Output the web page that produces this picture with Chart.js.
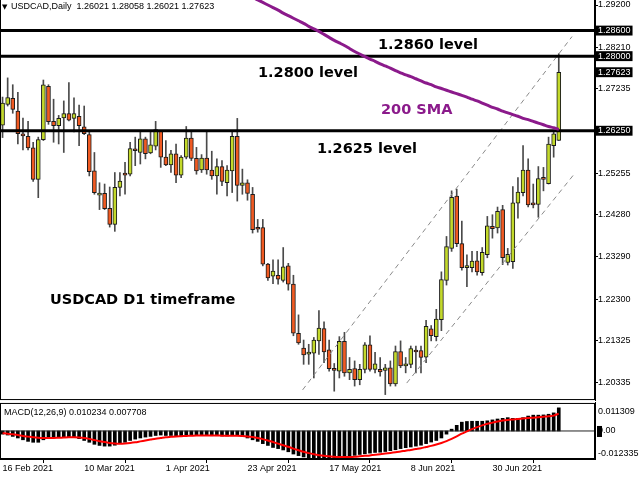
<!DOCTYPE html>
<html>
<head>
<meta charset="utf-8">
<script src="https://cdn.jsdelivr.net/npm/chart.js@4.4.0/dist/chart.umd.min.js"></script>
<style>
html, body { margin: 0; padding: 0; background: #fff; }
#wrap { position: relative; width: 640px; height: 480px; overflow: hidden; }
#priceChart { position: absolute; left: 0; top: -6px; }
#macdChart { position: absolute; left: 0; top: 395px; }
</style>
</head>
<body>
<div id="wrap">
  <canvas id="priceChart" width="640" height="411"></canvas>
  <canvas id="macdChart" width="640" height="85"></canvas>
</div>
<script>
// USDCAD daily, 16 Feb 2021 .. 19 Jul 2021
const opens = [
  1.2638,1.2687,1.2701,1.2671,1.2616,1.2612,1.2585,1.2511,1.2604,1.2729,
  1.2647,1.2637,1.2655,1.2665,1.2654,1.2659,1.2634,1.2616,1.2531,1.2474,
  1.2478,1.2443,1.2405,1.2492,1.2524,1.2523,1.2582,1.2574,1.2606,1.2573,
  1.2589,1.2624,1.2563,1.2545,1.2571,1.2521,1.2563,1.2608,1.2560,1.2533,
  1.2561,1.2533,1.2519,1.2541,1.2503,1.2531,1.2612,1.2497,1.2503,1.2476,
  1.2398,1.2398,1.2312,1.2284,1.2286,1.2274,1.2308,1.2265,1.2150,1.2115,
  1.2101,1.2103,1.2132,1.2161,1.2111,1.2067,1.2061,1.2131,1.2057,1.2067,
  1.2041,1.2065,1.2123,1.2065,1.2065,1.2063,1.2069,1.2031,1.2107,1.2073,
  1.2077,1.2109,1.2109,1.2094,1.2160,1.2142,1.2182,1.2274,1.2349,1.2472,
  1.2360,1.2304,1.2304,1.2320,1.2292,1.2334,1.2401,1.2397,1.2440,1.2316,
  1.2318,1.2455,1.2480,1.2533,1.2455,1.2452,1.2515,1.2501,1.2590,1.26021
];
const highs = [
  1.2704,1.2749,1.2733,1.2715,1.2655,1.2647,1.2598,1.2610,1.2744,1.2733,
  1.2699,1.2661,1.2695,1.2738,1.2702,1.2685,1.2683,1.2626,1.2574,1.2503,
  1.2500,1.2493,1.2527,1.2527,1.2551,1.2598,1.2610,1.2622,1.2610,1.2622,
  1.2647,1.2626,1.2602,1.2579,1.2594,1.2567,1.2635,1.2624,1.2586,1.2569,
  1.2624,1.2577,1.2559,1.2555,1.2543,1.2622,1.2654,1.2535,1.2510,1.2492,
  1.2417,1.2417,1.2314,1.2322,1.2322,1.2351,1.2314,1.2286,1.2193,1.2134,
  1.2124,1.2140,1.2203,1.2177,1.2134,1.2079,1.2142,1.2152,1.2093,1.2085,
  1.2077,1.2128,1.2144,1.2105,1.2093,1.2077,1.2085,1.2120,1.2132,1.2093,
  1.2120,1.2120,1.2120,1.2180,1.2168,1.2206,1.2294,1.2377,1.2484,1.2488,
  1.2413,1.2334,1.2342,1.2342,1.2351,1.2424,1.2428,1.2446,1.2450,1.2349,
  1.2494,1.2515,1.2590,1.2559,1.2500,1.2541,1.2539,1.2610,1.2626,1.28058
];
const lows = [
  1.2609,1.2683,1.2666,1.2594,1.2580,1.2580,1.2506,1.2468,1.2602,1.2640,
  1.2598,1.2594,1.2574,1.2648,1.2622,1.2590,1.2616,1.2519,1.2476,1.2440,
  1.2440,1.2399,1.2389,1.2472,1.2476,1.2519,1.2543,1.2547,1.2559,1.2571,
  1.2580,1.2539,1.2543,1.2527,1.2503,1.2515,1.2559,1.2555,1.2523,1.2527,
  1.2523,1.2511,1.2476,1.2496,1.2472,1.2480,1.2460,1.2476,1.2462,1.2385,
  1.2387,1.2308,1.2274,1.2266,1.2265,1.2270,1.2251,1.2144,1.2124,1.2077,
  1.2077,1.2045,1.2100,1.2081,1.2061,1.2014,1.2045,1.2049,1.2041,1.2026,
  1.2029,1.2057,1.2061,1.2057,1.2049,1.2006,1.2026,1.2026,1.2069,1.2057,
  1.2069,1.2057,1.2057,1.2081,1.2132,1.2132,1.2156,1.2263,1.2342,1.2353,
  1.2298,1.2259,1.2294,1.2286,1.2286,1.2327,1.2373,1.2385,1.2311,1.2310,
  1.2302,1.2420,1.2472,1.2446,1.2444,1.2422,1.2484,1.2500,1.2563,1.26021
];
const closes = [
  1.2690,1.2703,1.2675,1.2618,1.2613,1.2585,1.2511,1.2604,1.2733,1.2646,
  1.2637,1.2654,1.2665,1.2650,1.2665,1.2637,1.2618,1.2529,1.2480,1.2478,
  1.2442,1.2405,1.2492,1.2507,1.2521,1.2583,1.2578,1.2606,1.2571,1.2592,
  1.2628,1.2563,1.2545,1.2571,1.2521,1.2563,1.2608,1.2560,1.2531,1.2561,
  1.2533,1.2519,1.2541,1.2506,1.2533,1.2612,1.2497,1.2503,1.2478,1.2393,
  1.2394,1.2312,1.2280,1.2296,1.2277,1.2306,1.2265,1.2150,1.2127,1.2099,
  1.2105,1.2134,1.2162,1.2106,1.2067,1.2063,1.2131,1.2057,1.2065,1.2041,
  1.2065,1.2123,1.2065,1.2078,1.2059,1.2069,1.2031,1.2107,1.2073,1.2078,
  1.2114,1.2106,1.2093,1.2166,1.2144,1.2183,1.2276,1.2353,1.2469,1.2360,
  1.2304,1.2308,1.2319,1.2294,1.2340,1.2402,1.2395,1.2436,1.2327,1.2335,
  1.2456,1.2481,1.2533,1.2451,1.2451,1.2513,1.2511,1.2594,1.2618,1.27623
];

// 200 SMA, only the part that shows (starts at bar 48)
const smaStart = 48;
const sma200 = [
  1.2943,1.2938,1.2932,1.2926,1.2920,1.2914,1.2908,1.2901,1.2895,1.2889,
  1.2883,1.2877,1.2870,1.2864,1.2858,1.2851,1.2844,1.2837,1.2831,1.2825,
  1.2818,1.2811,1.2805,1.2799,1.2793,1.2788,1.2782,1.2777,1.2772,1.2766,
  1.2761,1.2756,1.2752,1.2747,1.2742,1.2737,1.2733,1.2728,1.2724,1.2720,
  1.2716,1.2712,1.2708,1.2704,1.2699,1.2695,1.2690,1.2685,1.2680,1.2676,
  1.2671,1.2667,1.2663,1.2659,1.2654,1.2651,1.2647,1.2643,1.2639,1.2635,
  1.2632,1.2628
];

// MACD(12,26,9): main (histogram) and signal
const macdMain = [
  -0.0014,-0.0018,-0.0024,-0.0031,-0.0039,-0.0046,-0.0050,-0.0050,-0.0039,-0.0034,
  -0.0031,-0.0029,-0.0028,-0.0027,-0.0029,-0.0034,-0.0042,-0.0050,-0.0059,-0.0064,
  -0.0067,-0.0067,-0.0063,-0.0056,-0.0050,-0.0042,-0.0036,-0.0031,-0.0027,-0.0024,
  -0.0020,-0.0018,-0.0020,-0.0020,-0.0021,-0.0021,-0.0018,-0.0017,-0.0018,-0.0020,
  -0.0020,-0.0021,-0.0021,-0.0022,-0.0022,-0.0020,-0.0021,-0.0024,-0.0031,-0.0039,
  -0.0046,-0.0056,-0.0064,-0.0073,-0.0078,-0.0084,-0.0092,-0.0102,-0.0109,-0.0115,
  -0.0118,-0.0119,-0.0119,-0.0119,-0.0120,-0.0120,-0.0118,-0.0115,-0.0112,-0.0108,
  -0.0104,-0.0101,-0.0098,-0.0095,-0.0094,-0.0091,-0.0087,-0.0083,-0.0078,-0.0074,
  -0.0071,-0.0067,-0.0063,-0.0056,-0.0049,-0.0042,-0.0031,-0.0014,0.0008,0.0025,
  0.0039,0.0042,0.0043,0.0043,0.0043,0.0045,0.0049,0.0053,0.0056,0.0059,
  0.0056,0.0056,0.0059,0.0066,0.0070,0.0070,0.0071,0.0074,0.0080,0.010234
];
const macdSignal = [
  -0.0010,-0.0012,-0.0015,-0.0018,-0.0022,-0.0025,-0.0028,-0.0030,-0.0031,-0.0031,
  -0.0031,-0.0030,-0.0029,-0.0028,-0.0028,-0.0029,-0.0031,-0.0035,-0.0040,-0.0045,
  -0.0049,-0.0053,-0.0055,-0.0056,-0.0055,-0.0053,-0.0050,-0.0046,-0.0042,-0.0038,
  -0.0034,-0.0031,-0.0028,-0.0026,-0.0024,-0.0023,-0.0022,-0.0021,-0.0020,-0.0020,
  -0.0020,-0.0020,-0.0020,-0.0021,-0.0021,-0.0021,-0.0021,-0.0022,-0.0024,-0.0027,
  -0.0031,-0.0036,-0.0042,-0.0049,-0.0056,-0.0063,-0.0070,-0.0078,-0.0085,-0.0092,
  -0.0098,-0.0103,-0.0107,-0.0110,-0.0112,-0.0114,-0.0115,-0.0115,-0.0115,-0.0114,
  -0.0112,-0.0110,-0.0108,-0.0105,-0.0103,-0.0100,-0.0097,-0.0094,-0.0091,-0.0087,
  -0.0084,-0.0080,-0.0076,-0.0071,-0.0066,-0.0060,-0.0053,-0.0045,-0.0035,-0.0024,
  -0.0012,-0.0002,0.0008,0.0017,0.0025,0.0032,0.0037,0.0042,0.0046,0.0049,
  0.0051,0.0053,0.0055,0.0057,0.0059,0.0061,0.0063,0.0065,0.0068,0.007708
];

// drawn levels and the rising channel (bar index, price)
const levels = [1.2625, 1.2800, 1.2860];
const channelUpper = [[58.8, 1.2017], [111.6, 1.2846]];
const channelLower = [[79.2, 1.2033], [112.2, 1.2526]];

// axis labels
const dateTickIndex = [0, 16, 32, 48, 64, 80, 96];
const dateLabels = ['16 Feb 2021', '10 Mar 2021', '1 Apr 2021', '23 Apr 2021', '17 May 2021', '8 Jun 2021', '30 Jun 2021'];
const priceTicks = [1.29200, 1.28210, 1.27235, 1.25255, 1.24280, 1.23290, 1.22300, 1.21325, 1.20335];
const markedTicks = [1.28600, 1.28000, 1.27623, 1.26250];
const macdTickLabels = ['0.011309', '0.00', '-0.012335'];

const last = opens.length - 1;
const xMin = -0.5, xMax = 116.1;
const bull = '#c3d92b', bear = '#f05a22';
const idx = opens.map((_, i) => i);
const font9 = { family: 'Liberation Sans', size: 9, lineHeight: 1.1 };

const framePlugin = {
    id: 'frame',
    afterDraw(chart) {
        const { ctx, chartArea: a } = chart;
        ctx.save();
        ctx.strokeStyle = '#000';
        ctx.lineWidth = 1;
        ctx.strokeRect(a.left + 0.5, a.top + 0.5, a.right - a.left - 1, a.bottom - a.top - 1);
        ctx.restore();
    }
};

// texts written on the price chart (page pixels)
const notes = [
    { text: '1.2860 level', x: 378, y: 45, color: '#000' },
    { text: '1.2800 level', x: 258, y: 73, color: '#000' },
    { text: '200 SMA', x: 381, y: 110, color: '#8b1a8b' },
    { text: '1.2625 level', x: 317, y: 149, color: '#000' },
    { text: 'USDCAD D1 timeframe', x: 50, y: 300, color: '#000' }
];

const notesPlugin = {
    id: 'notes',
    afterDatasetsDraw(chart) {
        const ctx = chart.ctx;
        ctx.save();
        ctx.translate(0, 6);
        ctx.textBaseline = 'middle';
        ctx.font = 'bold 14.5px "DejaVu Sans"';
        notes.forEach(n => {
            ctx.fillStyle = n.color;
            ctx.fillText(n.text, n.x, n.y);
        });
        ctx.fillStyle = '#000';
        ctx.font = '7px "DejaVu Sans"';
        ctx.fillText('\u25BC', 2, 7);
        ctx.font = '9px "Liberation Sans"';
        const f = v => v.toFixed(5);
        ctx.fillText('USDCAD,Daily  ' + [opens[last], highs[last], lows[last], closes[last]].map(f).join(' '), 11, 7);
        ctx.restore();
    }
};

const flatLine = (y, color, width) => ({
    type: 'line',
    data: [{ x: xMin - 2, y: y }, { x: xMax + 2, y: y }],
    borderColor: color, borderWidth: width, pointRadius: 0, order: 1
});
const dashLine = pts => ({
    type: 'line',
    data: pts.map(p => ({ x: p[0], y: p[1] })),
    borderColor: '#8a8a8a', borderWidth: 1, borderDash: [5, 4], pointRadius: 0, order: 2
});

new Chart(document.getElementById('priceChart'), {
    type: 'bar',
    data: {
        datasets: [
            {
                label: 'wicks',
                data: idx.map(i => ({ x: i, y: [lows[i], highs[i]] })),
                backgroundColor: '#4a4a4a', barThickness: 1, grouped: false, order: 6
            },
            {
                label: 'bodies',
                data: idx.map(i => ({ x: i, y: [opens[i], closes[i]] })),
                backgroundColor: idx.map(i => closes[i] >= opens[i] ? bull : bear),
                borderColor: '#1a1a1a', borderWidth: 1, borderSkipped: false,
                barThickness: 4, minBarLength: 2, grouped: false, order: 5
            },
            dashLine(channelUpper),
            dashLine(channelLower),
            {
                type: 'line', label: '200 SMA',
                data: sma200.map((v, i) => ({ x: smaStart + i, y: v })),
                borderColor: '#8b1a8b', borderWidth: 3, pointRadius: 0, tension: 0.3, order: 1
            },
            ...levels.map(l => flatLine(l, '#000', 3))
        ]
    },
    options: {
        responsive: false,
        animation: false,
        layout: { padding: { left: 0, top: 0, right: 0, bottom: 2 } },
        plugins: { legend: { display: false }, tooltip: { enabled: false } },
        scales: {
            x: { type: 'linear', min: xMin, max: xMax, offset: false, display: false },
            y: {
                position: 'right',
                min: 1.19932, max: 1.29342,
                afterFit(s) { s.width = 45; },
                afterBuildTicks(s) {
                    s.ticks = priceTicks.concat(markedTicks).sort((a, b) => a - b).map(v => ({ value: v }));
                },
                border: { display: true, color: '#000', width: 1 },
                grid: { drawOnChartArea: false, drawTicks: true, tickLength: 3, color: '#000' },
                ticks: {
                    autoSkip: false,
                    padding: 0,
                    font: font9,
                    color: c => markedTicks.includes(c.tick.value) ? '#fff' : '#000',
                    showLabelBackdrop: c => markedTicks.includes(c.tick.value),
                    backdropColor: '#000',
                    backdropPadding: { x: 2, y: 0 },
                    callback: v => v.toFixed(5)
                }
            }
        }
    },
    plugins: [framePlugin, notesPlugin]
});

const macdNotes = {
    id: 'macdNotes',
    afterDatasetsDraw(chart) {
        const ctx = chart.ctx;
        const a = chart.chartArea;
        const y0 = chart.scales.y.getPixelForValue(0);
        ctx.save();
        ctx.fillStyle = '#000';
        ctx.fillRect(a.right + 2, y0 - 5, 5, 11);
        ctx.textBaseline = 'middle';
        ctx.font = '9px "Liberation Sans"';
        ctx.fillText('MACD(12,26,9) ' + macdMain[last].toFixed(6) + ' ' + macdSignal[last].toFixed(6), 4, a.top + 10);
        ctx.restore();
    }
};

const mMin = -0.0124, mMax = 0.0124;
new Chart(document.getElementById('macdChart'), {
    type: 'bar',
    data: {
        datasets: [
            {
                label: 'MACD',
                data: macdMain.map((v, i) => ({ x: i, y: v })),
                backgroundColor: '#000', barThickness: 3, order: 3
            },
            {
                type: 'line', label: 'Signal',
                data: macdSignal.map((v, i) => ({ x: i, y: v })),
                borderColor: '#ff0000', borderWidth: 2, pointRadius: 0, tension: 0.3, order: 1
            },
            flatLine(0, '#222', 1)
        ]
    },
    options: {
        responsive: false,
        animation: false,
        layout: { padding: { left: 0, top: 2, right: 0, bottom: 0 } },
        plugins: { legend: { display: false }, tooltip: { enabled: false } },
        scales: {
            x: {
                type: 'linear', min: xMin, max: xMax, offset: false,
                afterFit(s) { s.height = 21; },
                afterBuildTicks(s) { s.ticks = dateTickIndex.map(v => ({ value: v })); },
                border: { display: true, color: '#000' },
                grid: { drawOnChartArea: false, drawTicks: true, tickLength: 4, color: '#000' },
                ticks: {
                    autoSkip: false, maxRotation: 0, align: 'start', padding: 1,
                    font: font9, color: '#000',
                    callback: v => dateLabels[dateTickIndex.indexOf(v)]
                }
            },
            y: {
                position: 'right', min: mMin, max: mMax,
                afterFit(s) { s.width = 45; },
                afterBuildTicks(s) {
                    const span = mMax - mMin;
                    s.ticks = [mMin + span * 0.105, 0, mMax - span * 0.157].map(v => ({ value: v }));
                },
                border: { display: true, color: '#000' },
                grid: { display: false, drawTicks: false, tickLength: 0 },
                ticks: {
                    autoSkip: false, padding: 3, font: font9, color: '#000',
                    callback: (v, i) => macdTickLabels[2 - i]
                }
            }
        }
    },
    plugins: [framePlugin, macdNotes]
});
</script>
</body>
</html>
